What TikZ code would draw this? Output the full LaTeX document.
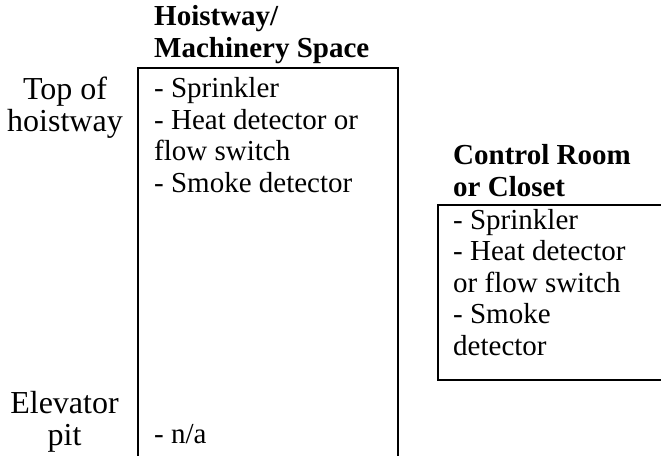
\documentclass[tikz,border=0pt]{standalone}
\usepackage{fontspec}
\setmainfont{Liberation Serif}
\begin{document}
\begin{tikzpicture}[x=1pt,y=-1pt,
  txt/.style={font=\fontsize{29}{31.5}\selectfont, inner sep=0pt, align=left, anchor=base west},
  hdr/.style={txt, font=\fontsize{29}{32}\selectfont\bfseries},
  side/.style={font=\fontsize{32}{32}\selectfont, inner sep=0pt, align=center, anchor=base},
  boxline/.style={draw=black, line width=1.8pt}]
\useasboundingbox (0,0) rectangle (661,455);
\draw[boxline] (138,490) -- (138,68) -- (398,68) -- (398,490);
\draw[boxline] (690,205) -- (438,205) -- (438,380) -- (690,380);
\node[hdr] (h1) at (154,57) {Hoistway/\\Machinery Space};
\node[txt] (l1) at (154,192) {- Sprinkler\\- Heat detector or\\flow switch\\- Smoke detector};
\node[txt] (l2) at (154,443) {- n/a};
\node[side] (top) at (65,131) {Top of\\hoistway};
\node[side] (pit) at (64.5,445) {Elevator\\pit};
\node[hdr] (h2) at (453,196) {Control Room\\or Closet};
\node[txt] (r1) at (453,355) {- Sprinkler\\- Heat detector\\or flow switch\\- Smoke\\detector};
\end{tikzpicture}
\end{document}
